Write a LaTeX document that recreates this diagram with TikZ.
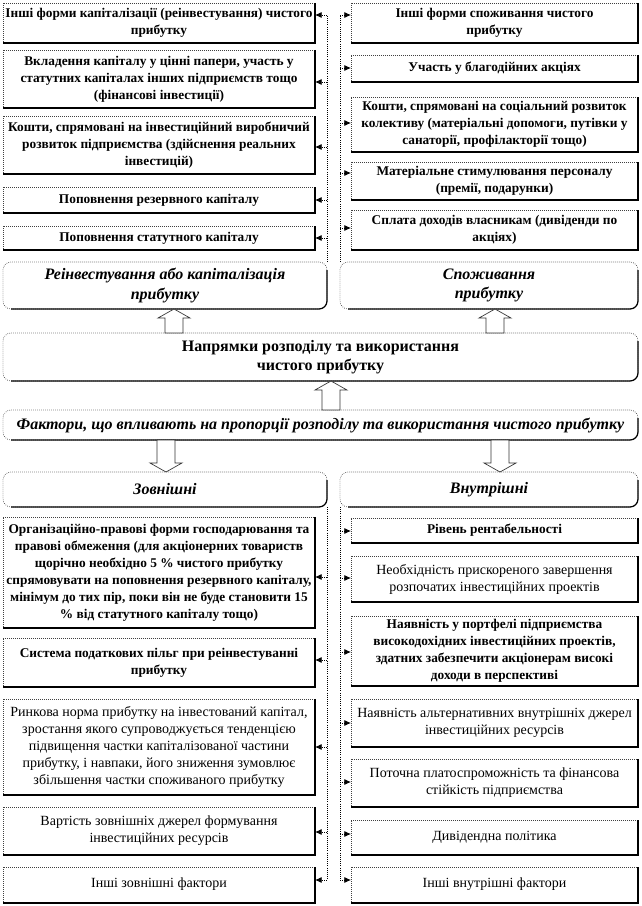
\documentclass[tikz,border=0pt]{standalone}
\usepackage{fontspec}
\setmainfont{Liberation Serif}
\usetikzlibrary{arrows.meta,calc}

\tikzset{
  bx/.style={draw=black!75, densely dotted, line width=0.5pt, inner sep=1pt, outer sep=0pt,
    align=center, text=black, font=\fontsize{10}{12.75}\selectfont\bfseries},
  bxr/.style={bx, font=\fontsize{10.5}{12.75}\selectfont},
  hd/.style={bx, rounded corners=6pt, font=\fontsize{12}{14.5}\selectfont\bfseries\itshape},
  hdb/.style={hd, font=\fontsize{12}{14.5}\selectfont\bfseries},
  conn/.style={densely dotted, line width=0.6pt, black},
  arr/.style={conn, -{Latex[length=5pt,width=4.5pt]}},
  shade/.style={solid, line width=0.9pt, black},
  hollow/.style={draw=black!80, line width=0.5pt, fill=white, line join=miter}
}

\newcommand\boxat[7]{\node[#1, minimum width={(#5-#3)*0.75pt}, minimum height={(#6-#4)*0.75pt}] (#2) at ({(#3+#5)/2},{(#4+#6)/2}) {#7};}
\newcommand\hollowarrow[3]{%
  \filldraw[hollow] let \p1=#1, \p2=#2 in
    (\x1-6.75pt,\y1) -- (\x1-6.75pt,\y2-#3) -- (\x1-12pt,\y2-#3) -- (\x2,\y2)
    -- (\x1+12pt,\y2-#3) -- (\x1+6.75pt,\y2-#3) -- (\x1+6.75pt,\y1) -- cycle;}

\begin{document}
\begin{tikzpicture}[x=0.75pt,y=-0.75pt]
\fill[white] (0,0) rectangle (642,906);
\useasboundingbox (0,0) rectangle (642,906);

% ---------- top left ----------
\boxat{bx}{L1}{3}{3}{315}{43}{Інші форми капіталізації  (реінвестування)  чистого\\прибутку}
\boxat{bx}{L2}{3}{50}{315}{108}{Вкладення  капіталу у цінні папери, участь у\\статутних  капіталах  інших підприємств  тощо\\(фінансові інвестиції)}
\boxat{bx}{L3}{3}{116}{315}{174}{Кошти, спрямовані на інвестиційний  виробничий\\розвиток підприємства  (здійснення  реальних\\інвестицій)}
\boxat{bx}{L4}{3}{187}{315}{213}{Поповнення  резервного  капіталу}
\boxat{bx}{L5}{3}{226}{315}{250}{Поповнення  статутного  капіталу}

% ---------- top right ----------
\boxat{bx}{R1}{351}{3}{638}{43}{Інші форми споживання чистого\\прибутку}
\boxat{bx}{R2}{351}{55}{638}{82}{Участь у благодійних  акціях}
\boxat{bx}{R3}{351}{97}{638}{152}{Кошти, спрямовані на соціальний розвиток\\колективу (матеріальні  допомоги, путівки у\\санаторії, профілакторії  тощо)}
\boxat{bx}{R4}{351}{162}{638}{200}{Матеріальне  стимулювання  персоналу\\(премії, подарунки)}
\boxat{bx}{R5}{351}{210}{638}{250}{Сплата  доходів  власникам (дивіденди по\\акціях)}

% ---------- headers ----------
\boxat{hd}{reinv}{3}{262}{327}{309}{Реінвестування або капіталізація\\прибутку}
\boxat{hd}{spozh}{340}{262}{638}{309}{Споживання\\прибутку}
\boxat{hdb}{napr}{3}{333}{638}{381}{Напрямки  розподілу  та  використання\\чистого прибутку}
\boxat{hd}{fakt}{3}{410}{638}{440}{Фактори, що впливають на пропорції розподілу та використання чистого прибутку}
\boxat{hd}{zovn}{3}{472}{327}{507}{Зовнішні}
\boxat{hd}{vnut}{340}{472}{638}{507}{Внутрішні}

% ---------- bottom left ----------
\boxat{bx}{BL1}{3}{517}{315}{628}{Організаційно-правові  форми господарювання та\\правові обмеження (для акціонерних  товариств\\щорічно необхідно  5 \% чистого прибутку\\спрямовувати на поповнення  резервного капіталу,\\мінімум до тих пір, поки він не буде становити  15\\\% від статутного  капіталу тощо)}
\boxat{bx}{BL2}{3}{638}{315}{687}{Система податкових пільг при реінвестуванні\\прибутку}
\boxat{bxr}{BL3}{3}{699}{315}{795}{Ринкова норма прибутку на інвестований капітал,\\зростання якого супроводжується тенденцією\\підвищення  частки капіталізованої  частини\\прибутку, і навпаки, його зниження зумовлює\\збільшення  частки споживаного прибутку}
\boxat{bxr}{BL4}{3}{807}{315}{855}{Вартість зовнішніх  джерел формування\\інвестиційних  ресурсів}
\boxat{bxr}{BL5}{3}{867}{315}{903}{\raisebox{4pt}{Інші зовнішні  фактори}}

% ---------- bottom right ----------
\boxat{bx}{BR1}{351}{518}{638}{543}{Рівень рентабельності}
\boxat{bxr}{BR2}{351}{556}{638}{602}{Необхідність  прискореного завершення\\розпочатих інвестиційних  проектів}
\boxat{bx}{BR3}{351}{616}{638}{686}{Наявність  у портфелі  підприємства\\високодохідних інвестиційних  проектів,\\здатних забезпечити акціонерам  високі\\доходи в перспективі}
\boxat{bxr}{BR4}{351}{699}{638}{747}{Наявність  альтернативних  внутрішніх  джерел\\інвестиційних  ресурсів}
\boxat{bxr}{BR5}{351}{759}{638}{807}{Поточна  платоспроможність  та фінансова\\стійкість  підприємства}
\boxat{bxr}{BR6}{351}{820}{638}{855}{\raisebox{2pt}{Дивідендна  політика}}
\boxat{bxr}{BR7}{351}{867}{638}{903}{\raisebox{4pt}{Інші внутрішні  фактори}}

% ---------- shadow edges ----------
\foreach \n in {L1,L2,L3,L4,L5,R1,R2,R3,R4,R5,BL1,BL2,BL3,BL4,BL5,BR1,BR2,BR3,BR4,BR5,BR6,BR7}
  \draw[shade] (\n.north east) -- (\n.south east) -- (\n.south west);
\foreach \n in {reinv,spozh,napr,fakt,zovn,vnut}
  \draw[shade, rounded corners=6pt] ([yshift=-6pt]\n.north east) -- (\n.south east) -- ([xshift=6pt]\n.south west);

% ---------- top connectors ----------
\coordinate (t1) at (327,15);
\coordinate (t2) at (327,82);
\coordinate (t3) at (327,147);
\coordinate (t4) at (327,200);
\coordinate (t5) at (327,238);
\draw[conn] (reinv.north east) -- (t1);
\foreach \c/\b in {t1/L1,t2/L2,t3/L3,t4/L4,t5/L5}
  \draw[arr] (\c) -- (\c -| \b.east);

\coordinate (r1) at (340,15);
\coordinate (r2) at (340,68);
\coordinate (r3) at (340,123);
\coordinate (r4) at (340,173);
\coordinate (r5) at (340,228);
\draw[conn] (spozh.north west) -- (r1);
\foreach \c/\b in {r1/R1,r2/R2,r3/R3,r4/R4,r5/R5}
  \draw[arr] (\c) -- (\c -| \b.west);

% ---------- bottom connectors ----------
\coordinate (b1) at (327,577);
\coordinate (b2) at (327,660);
\coordinate (b3) at (327,747);
\coordinate (b4) at (327,832);
\coordinate (b5) at (327,880);
\draw[conn] (zovn.south east) -- (b5);
\foreach \c/\b in {b1/BL1,b2/BL2,b3/BL3,b4/BL4,b5/BL5}
  \draw[arr] (\c) -- (\c -| \b.east);

\coordinate (c1) at (340,531);
\coordinate (c2) at (340,578);
\coordinate (c3) at (340,652);
\coordinate (c4) at (340,723);
\coordinate (c5) at (340,782);
\coordinate (c6) at (340,834);
\coordinate (c7) at (340,880);
\draw[conn] (vnut.south west) -- (c7);
\foreach \c/\b in {c1/BR1,c2/BR2,c3/BR3,c4/BR4,c5/BR5,c6/BR6,c7/BR7}
  \draw[arr] (\c) -- (\c -| \b.west);

% ---------- hollow block arrows ----------
\coordinate (ua1) at (174,0);
\coordinate (ua2) at (495,0);
\coordinate (ua3) at (331,0);
\coordinate (da1) at (166,0);
\coordinate (da2) at (500,0);
\hollowarrow{(ua1 |- napr.north)}{(ua1 |- reinv.south)}{6.75pt}
\hollowarrow{(ua2 |- napr.north)}{(ua2 |- spozh.south)}{6.75pt}
\hollowarrow{(ua3 |- fakt.north)}{(ua3 |- napr.south)}{6.75pt}
\hollowarrow{(da1 |- fakt.south)}{(da1 |- zovn.north)}{-6.75pt}
\hollowarrow{(da2 |- fakt.south)}{(da2 |- vnut.north)}{-6.75pt}
\end{tikzpicture}
\end{document}
